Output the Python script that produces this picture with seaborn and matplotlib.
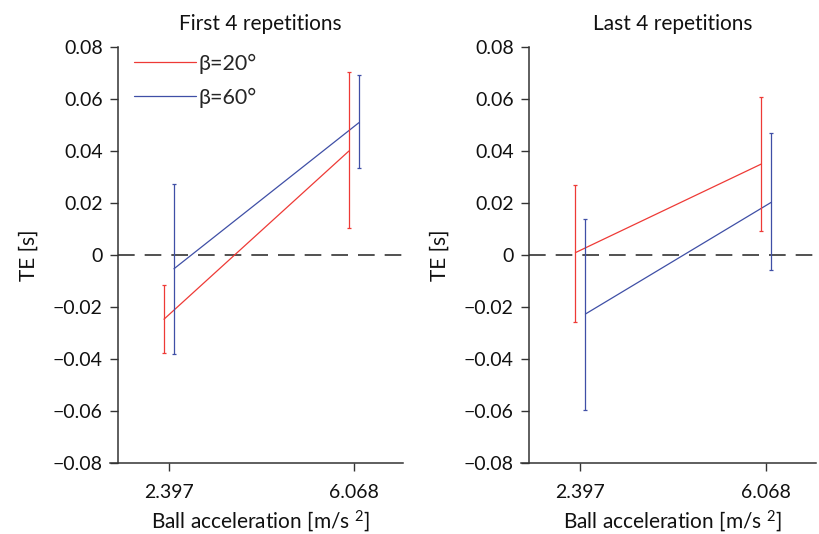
import numpy as np
import pandas as pd
import matplotlib
matplotlib.use('Agg')
import matplotlib.pyplot as plt
import seaborn as sns

# ============================================================
# Data
# ============================================================
accel_labels = ['2.397', '6.068']
conditions = ['β=20°', 'β=60°']
panel_titles = ['First 4 repetitions', 'Last 4 repetitions']

# First 4 repetitions
first_mean_20 = [-0.0247, 0.0400]
first_lo_20 = [-0.0376, 0.0104]
first_hi_20 = [-0.0115, 0.0705]
first_mean_60 = [-0.0053, 0.0509]
first_lo_60 = [-0.0382, 0.0336]
first_hi_60 = [0.0273, 0.0693]

# Last 4 repetitions
last_mean_20 = [0.0009, 0.0350]
last_lo_20 = [-0.0258, 0.0094]
last_hi_20 = [0.0269, 0.0609]
last_mean_60 = [-0.0227, 0.0203]
last_lo_60 = [-0.0596, -0.0059]
last_hi_60 = [0.0140, 0.0470]

yticks = [-0.08, -0.06, -0.04, -0.02, 0, 0.02, 0.04, 0.06, 0.08]
ytick_labels = ['\u22120.08', '\u22120.06', '\u22120.04', '\u22120.02', '0',
                '0.02', '0.04', '0.06', '0.08']

# ============================================================
# Style
# ============================================================
sns.set_style('white')
plt.rcParams['font.family'] = ['Lato', 'DejaVu Sans']
plt.rcParams['mathtext.fontset'] = 'custom'
plt.rcParams['mathtext.rm'] = 'Lato'
plt.rcParams['mathtext.it'] = 'Lato'

RED = '#ee3a36'
BLUE = '#3f4fa6'
AXCOL = '#333333'
TXT = '#111111'
palette = {conditions[0]: RED, conditions[1]: BLUE}
offsets = {conditions[0]: -0.027, conditions[1]: 0.027}

panels = [
    (first_mean_20, first_lo_20, first_hi_20, first_mean_60, first_lo_60, first_hi_60),
    (last_mean_20, last_lo_20, last_hi_20, last_mean_60, last_lo_60, last_hi_60),
]

fig = plt.figure(figsize=(8.19, 5.34), dpi=100)
ax_pos = [[0.144, 0.133, 0.348, 0.779], [0.646, 0.133, 0.350, 0.779]]

for p, (m20, lo20, hi20, m60, lo60, hi60) in enumerate(panels):
    ax = fig.add_axes(ax_pos[p])
    rows = []
    for cond, m, lo, hi in [(conditions[0], m20, lo20, hi20),
                            (conditions[1], m60, lo60, hi60)]:
        for i, lab in enumerate(accel_labels):
            rows.append({'cond': cond, 'pos': i + 1 + offsets[cond],
                         'TE': m[i], 'lo': lo[i], 'hi': hi[i]})
    df = pd.DataFrame(rows)

    ax.axhline(0, color=AXCOL, lw=1.2, dashes=(10, 6), zorder=1)
    sns.lineplot(data=df, x='pos', y='TE', hue='cond', palette=palette,
                 lw=0.9, ax=ax, legend=(p == 0), zorder=3)
    for cond, sub in df.groupby('cond'):
        ax.errorbar(sub['pos'], sub['TE'],
                    yerr=[sub['TE'] - sub['lo'], sub['hi'] - sub['TE']],
                    fmt='none', ecolor=palette[cond], elinewidth=0.9,
                    capsize=1.5, capthick=0.9, zorder=3)

    ax.set_xlim(0.724, 2.265)
    ax.set_ylim(-0.08, 0.08)
    ax.set_xticks([1, 2])
    ax.set_xticklabels(accel_labels)
    ax.set_yticks(yticks)
    ax.set_yticklabels(ytick_labels)
    ax.tick_params(axis='both', direction='out', length=6, width=1.0,
                   color=AXCOL, labelsize=14, labelcolor=TXT, pad=5,
                   left=True, bottom=True)
    ax.tick_params(axis='x', pad=9)
    for s in ['top', 'right']:
        ax.spines[s].set_visible(False)
    for s in ['left', 'bottom']:
        ax.spines[s].set_color(AXCOL)
        ax.spines[s].set_linewidth(1.1)
    ax.spines['bottom'].set_bounds(0.724 - 8 / 185, 2.265)

    ax.set_title(panel_titles[p], fontsize=15, color=TXT, pad=12)
    ax.set_xlabel('Ball acceleration [m/s $^{2}$]', fontsize=15, color=TXT, labelpad=5)
    ax.set_ylabel('TE [s]', fontsize=15, color=TXT, labelpad=10)

    if p == 0:
        leg = ax.legend(loc='upper left', frameon=False, fontsize=15.5,
                        handlelength=2.9, handletextpad=0.1, labelspacing=0.65,
                        borderaxespad=0.0, bbox_to_anchor=(0.025, 1.005))
        for h in leg.get_lines():
            h.set_linewidth(0.9)

plt.savefig('out.png', dpi=100)
plt.close()
